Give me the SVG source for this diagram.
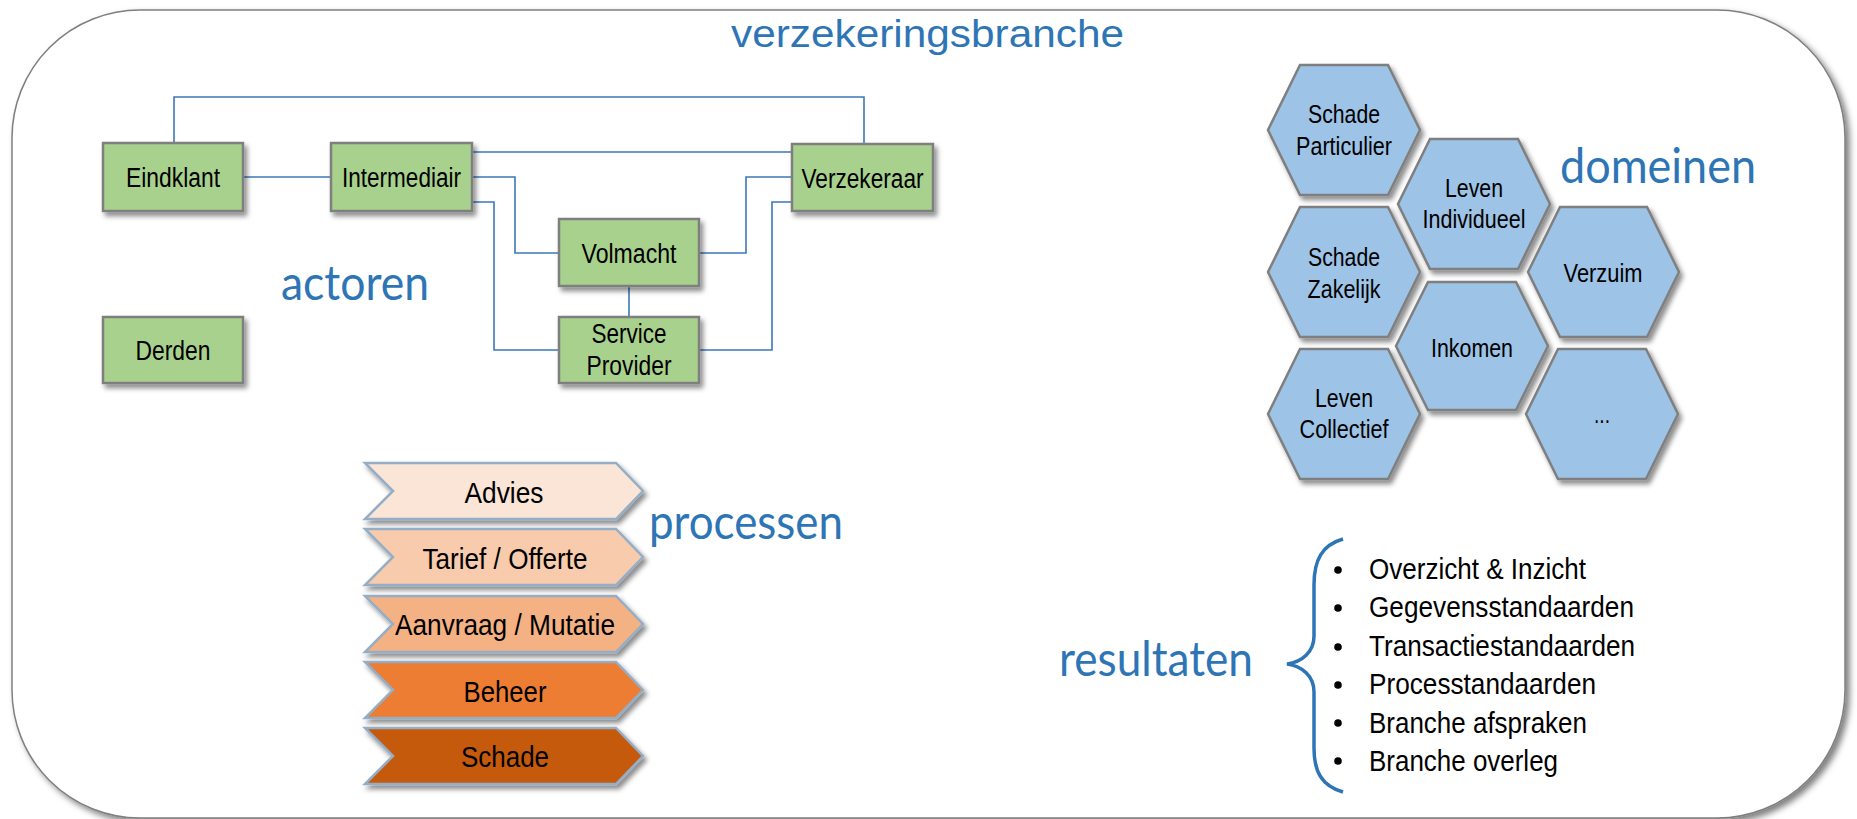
<svg xmlns="http://www.w3.org/2000/svg" width="1857" height="819" viewBox="0 0 1857 819">
<defs>
<filter id="sh" x="-20%" y="-20%" width="150%" height="160%"><feDropShadow dx="3" dy="4" stdDeviation="2.5" flood-color="#000" flood-opacity="0.45"/></filter>
<filter id="shf" x="-5%" y="-5%" width="110%" height="110%"><feDropShadow dx="4" dy="4" stdDeviation="3" flood-color="#000" flood-opacity="0.5"/></filter>
<style>
.box{fill:#A9D18E;stroke:#7F7F7F;stroke-width:2.5}
.hex{fill:#9DC3E6;stroke:#7F7F7F;stroke-width:2.5}
.chev{stroke:#95AEC6;stroke-width:2.5}
.t{font-family:"Liberation Sans",Arial,sans-serif;fill:#000;text-anchor:middle}
.tn{font-size:27px}
.th{font-size:25px}
.tc{font-size:30px}
.tl{font-family:"Liberation Sans",Arial,sans-serif;font-size:30px;fill:#000}
.lab{font-family:Lato,"Open Sans",sans-serif;font-size:48px;fill:#2E75B6}
.con{fill:none;stroke:#3C78B8;stroke-width:1.6}
</style>
</defs>
<rect x="12" y="10" width="1833" height="808" rx="128" ry="128" fill="#fff" stroke="#7F7F7F" stroke-width="1.5" filter="url(#shf)"/>
<text x="731" y="47" font-family="Liberation Sans, Arial, sans-serif" font-size="38" fill="#2E75B6" textLength="393" lengthAdjust="spacingAndGlyphs">verzekeringsbranche</text>

<g id="connectors">
<polyline class="con" points="174,143 174,97 864,97 864,144"/>
<line class="con" x1="243" y1="177" x2="331" y2="177"/>
<line class="con" x1="472" y1="152" x2="792" y2="152"/>
<polyline class="con" points="472,177 515,177 515,253 559,253"/>
<polyline class="con" points="472,202 494,202 494,350 559,350"/>
<polyline class="con" points="699,253 746,253 746,177 792,177"/>
<polyline class="con" points="699,350 772,350 772,202 792,202"/>
<line class="con" x1="629" y1="286" x2="629" y2="317"/>
</g>

<g id="eindklant"><rect class="box" x="103" y="143" width="140" height="68" filter="url(#sh)"/><text class="t tn" x="173" y="187" textLength="94" lengthAdjust="spacingAndGlyphs">Eindklant</text></g>
<g id="intermediair"><rect class="box" x="331" y="143" width="141" height="68" filter="url(#sh)"/><text class="t tn" x="401.5" y="187" textLength="119" lengthAdjust="spacingAndGlyphs">Intermediair</text></g>
<g id="verzekeraar"><rect class="box" x="792" y="144" width="141" height="67" filter="url(#sh)"/><text class="t tn" x="862.5" y="188" textLength="122" lengthAdjust="spacingAndGlyphs">Verzekeraar</text></g>
<g id="volmacht"><rect class="box" x="559" y="219" width="140" height="67" filter="url(#sh)"/><text class="t tn" x="629" y="263" textLength="95" lengthAdjust="spacingAndGlyphs">Volmacht</text></g>
<g id="serviceprovider"><rect class="box" x="559" y="317" width="140" height="66" filter="url(#sh)"/><text class="t tn" x="629" y="343" textLength="75" lengthAdjust="spacingAndGlyphs">Service</text><text class="t tn" x="629" y="375" textLength="85" lengthAdjust="spacingAndGlyphs">Provider</text></g>
<g id="derden"><rect class="box" x="103" y="317" width="140" height="66" filter="url(#sh)"/><text class="t tn" x="173" y="360" textLength="75" lengthAdjust="spacingAndGlyphs">Derden</text></g>
<text class="lab" x="281" y="300" textLength="148" lengthAdjust="spacingAndGlyphs">actoren</text>

<g id="advies"><polygon class="chev" fill="#FBE5D6" points="365,463 616,463 643,491 616,519 365,519 393,491" filter="url(#sh)"/><text class="t tc" x="504" y="503" textLength="79" lengthAdjust="spacingAndGlyphs">Advies</text></g>
<g id="tarief"><polygon class="chev" fill="#F8CBAD" points="365,529 616,529 643,557 616,585 365,585 393,557" filter="url(#sh)"/><text class="t tc" x="505" y="569" textLength="165" lengthAdjust="spacingAndGlyphs">Tarief / Offerte</text></g>
<g id="aanvraag"><polygon class="chev" fill="#F4B183" points="365,596 616,596 643,624 616,652 365,652 393,624" filter="url(#sh)"/><text class="t tc" x="505" y="635" textLength="220" lengthAdjust="spacingAndGlyphs">Aanvraag / Mutatie</text></g>
<g id="beheer"><polygon class="chev" fill="#ED7D31" points="365,662 616,662 643,690 616,718 365,718 393,690" filter="url(#sh)"/><text class="t tc" x="505" y="702" textLength="83" lengthAdjust="spacingAndGlyphs">Beheer</text></g>
<g id="schade"><polygon class="chev" fill="#C55A11" points="365,728 616,728 643,756 616,784 365,784 393,756" filter="url(#sh)"/><text class="t tc" x="505" y="767" textLength="88" lengthAdjust="spacingAndGlyphs">Schade</text></g>
<text class="lab" x="649" y="539" textLength="194" lengthAdjust="spacingAndGlyphs">processen</text>

<g id="schade-particulier"><path class="hex" d="M1300,65 H1388 L1420,130 L1388,195 H1300 L1268,130 Z" filter="url(#sh)"/><text class="t th" x="1344" y="123" textLength="72" lengthAdjust="spacingAndGlyphs">Schade</text><text class="t th" x="1344" y="155" textLength="96" lengthAdjust="spacingAndGlyphs">Particulier</text></g>
<g id="leven-individueel"><path class="hex" d="M1430,139 H1518 L1550,204 L1518,269 H1430 L1398,204 Z" filter="url(#sh)"/><text class="t th" x="1474" y="197" textLength="58" lengthAdjust="spacingAndGlyphs">Leven</text><text class="t th" x="1474" y="228" textLength="103" lengthAdjust="spacingAndGlyphs">Individueel</text></g>
<g id="schade-zakelijk"><path class="hex" d="M1300,207 H1388 L1420,272 L1388,337 H1300 L1268,272 Z" filter="url(#sh)"/><text class="t th" x="1344" y="266" textLength="72" lengthAdjust="spacingAndGlyphs">Schade</text><text class="t th" x="1344" y="298" textLength="73" lengthAdjust="spacingAndGlyphs">Zakelijk</text></g>
<g id="verzuim"><path class="hex" d="M1560,207 H1647 L1679,272 L1647,337 H1560 L1528,272 Z" filter="url(#sh)"/><text class="t th" x="1603" y="282" textLength="79" lengthAdjust="spacingAndGlyphs">Verzuim</text></g>
<g id="inkomen"><path class="hex" d="M1428,282 H1516 L1548,346 L1516,410 H1428 L1396,346 Z" filter="url(#sh)"/><text class="t th" x="1472" y="357" textLength="82" lengthAdjust="spacingAndGlyphs">Inkomen</text></g>
<g id="leven-collectief"><path class="hex" d="M1300,349 H1388 L1420,414 L1388,479 H1300 L1268,414 Z" filter="url(#sh)"/><text class="t th" x="1344" y="407" textLength="58" lengthAdjust="spacingAndGlyphs">Leven</text><text class="t th" x="1344" y="438" textLength="89" lengthAdjust="spacingAndGlyphs">Collectief</text></g>
<g id="more"><path class="hex" d="M1558,349 H1646 L1678,414 L1646,479 H1558 L1526,414 Z" filter="url(#sh)"/><text class="t th" x="1602" y="423" textLength="16" lengthAdjust="spacingAndGlyphs">...</text></g>
<text class="lab" x="1560" y="183" textLength="196" lengthAdjust="spacingAndGlyphs">domeinen</text>

<g id="resultaten">
<text class="lab" x="1059" y="676" textLength="194" lengthAdjust="spacingAndGlyphs">resultaten</text>
<path d="M1343,539 C1322,545 1314,560 1314,585 V636 C1314,652 1302,662 1287,664 C1302,666 1314,676 1314,692 V748 C1314,772 1322,786 1343,792" fill="none" stroke="#2E75B6" stroke-width="3.5"/>
<g fill="#000"><circle cx="1338" cy="570" r="3.8"/><circle cx="1338" cy="608" r="3.8"/><circle cx="1338" cy="647" r="3.8"/><circle cx="1338" cy="685" r="3.8"/><circle cx="1338" cy="723" r="3.8"/><circle cx="1338" cy="761" r="3.8"/></g>
<text class="tl" x="1369" y="579" textLength="217" lengthAdjust="spacingAndGlyphs">Overzicht &amp; Inzicht</text>
<text class="tl" x="1369" y="617" textLength="265" lengthAdjust="spacingAndGlyphs">Gegevensstandaarden</text>
<text class="tl" x="1369" y="656" textLength="266" lengthAdjust="spacingAndGlyphs">Transactiestandaarden</text>
<text class="tl" x="1369" y="694" textLength="227" lengthAdjust="spacingAndGlyphs">Processtandaarden</text>
<text class="tl" x="1369" y="733" textLength="218" lengthAdjust="spacingAndGlyphs">Branche afspraken</text>
<text class="tl" x="1369" y="771" textLength="189" lengthAdjust="spacingAndGlyphs">Branche overleg</text>
</g>
</svg>
